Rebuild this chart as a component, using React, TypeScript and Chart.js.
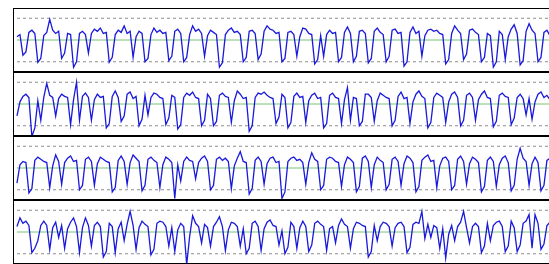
import React, { useEffect, useRef } from "react";
import { Chart, registerables } from "chart.js";
Chart.register(...registerables);

const panel1 = [0.3,0.5,-1.4,-1.1,0.7,0.9,0.6,-2.05,-1.7,0.4,0.7,1.9,0.9,0.6,0.8,-1.7,-1.2,0.6,0.5,-2.5,
-2.0,0.6,0.8,0.5,-1.2,0.6,1.0,0.8,1.1,0.6,0.7,-2.05,-1.6,0.5,0.9,0.7,1.3,0.6,0.8,-1.6,
0.3,0.8,0.6,-2.0,-1.7,0.5,1.1,0.7,0.9,0.6,0.7,-1.9,-1.5,0.8,1.0,0.6,-2.0,-1.6,0.5,1.3,
0.8,1.0,0.6,-1.5,0.4,0.9,0.7,0.5,-2.5,-2.1,0.5,0.9,1.1,0.7,0.8,0.5,-2.0,-1.6,0.8,0.9,
0.6,-1.8,-1.3,0.8,1.3,1.0,0.9,0.6,0.7,-2.0,-1.7,0.7,0.8,0.5,-1.5,0.3,1.1,1.0,0.6,0.5,
-2.2,-1.8,0.4,-1.5,0.5,0.9,0.6,0.7,-2.0,-1.6,0.7,1.2,0.6,-2.0,-1.5,0.8,0.9,0.6,-2.1,-1.7,
0.8,1.1,0.7,0.5,-2.0,-1.5,0.9,1.0,0.6,0.7,-2.4,-2.0,0.7,1.2,0.6,0.8,-1.5,0.4,0.9,1.0,
0.8,0.9,0.6,0.5,-2.2,-1.8,0.6,1.3,0.9,0.6,-1.8,-1.3,0.9,1.0,0.7,0.5,-2.0,-1.6,0.6,0.4,
-2.5,-2.0,0.8,0.5,-1.8,0.3,1.0,1.4,0.6,-2.3,-1.9,0.8,1.5,0.9,0.6,-2.0,-1.6,0.7,0.9,0.4];

const panel2 = [-1.1,0.2,0.7,0.9,0.6,-3.0,-2.2,0.3,-1.5,0.6,1.9,0.8,0.6,-1.1,0.5,0.9,0.7,0.6,-1.9,0.4,
2.0,-1.5,0.7,1.0,0.6,-1.5,0.4,0.9,0.6,0.7,-2.2,-1.8,0.7,1.2,0.6,-1.6,-1.1,0.9,1.1,0.5,
0.7,-2.0,-1.4,0.8,-1.0,0.6,1.0,0.9,0.6,0.5,-1.9,-1.3,0.8,0.6,-2.3,-1.9,0.6,1.0,0.8,1.1,
0.6,0.5,-2.0,-1.5,0.9,0.5,-2.0,-1.6,0.8,1.0,0.7,0.6,-1.7,0.3,1.2,0.9,0.5,0.6,-2.5,-2.0,
0.6,1.0,0.9,1.1,0.8,0.6,0.5,-1.8,-1.2,0.9,0.6,-2.2,-1.7,0.7,1.0,0.6,0.7,-1.7,0.3,0.8,
1.0,0.5,0.6,-2.2,-1.8,0.8,1.0,0.6,0.5,-1.8,0.4,1.5,-1.5,0.6,0.5,-2.0,-1.6,0.9,0.9,0.6,
-1.6,0.3,1.0,0.8,0.6,0.5,-2.0,-1.5,0.7,1.1,0.5,0.6,-1.8,0.2,0.9,1.2,0.7,0.5,-2.2,-1.7,
0.6,1.0,0.8,0.6,-1.7,0.2,0.9,1.1,0.6,-2.0,-1.5,0.8,1.0,0.6,-1.5,0.4,0.9,1.2,0.6,0.5,
-2.1,-1.6,0.8,1.0,0.7,0.6,-1.9,-1.3,0.6,0.9,0.5,-1.0,0.5,-1.4,0.2,0.9,1.1,0.6,0.8,0.4];

const panel3 = [-1.4,0.3,0.6,0.5,-2.3,-1.9,0.7,1.0,0.8,0.6,0.5,-1.8,0.2,1.2,0.6,-1.5,0.5,0.9,1.1,0.6,
0.7,-2.0,-1.6,0.8,1.0,0.6,-1.6,0.4,1.0,0.8,0.6,0.5,-2.2,-1.8,0.7,1.1,0.6,-1.5,0.5,1.2,
0.9,0.6,-2.1,-1.6,0.8,1.0,0.7,0.5,-1.8,0.3,1.0,0.8,0.5,-2.8,0.3,-1.2,0.6,1.0,0.7,0.6,
-1.0,0.5,0.9,1.1,0.6,-2.0,-1.6,0.8,1.0,0.7,0.9,0.6,-1.9,0.2,0.9,1.5,0.6,0.5,-2.4,-1.9,
0.7,1.0,0.6,-1.5,0.4,0.9,1.0,0.5,0.6,-2.8,-2.2,0.6,0.9,1.0,0.7,0.8,0.5,-1.5,0.5,1.4,
0.8,0.6,-2.0,-1.6,0.8,1.0,0.9,0.6,0.5,-1.7,0.3,1.0,0.8,0.5,-2.2,-1.7,0.9,1.1,0.6,-1.8,
0.3,1.0,0.7,0.5,-2.0,-1.5,0.8,1.0,0.6,-1.6,0.4,1.1,0.9,0.5,-2.2,-1.7,0.7,1.0,1.2,0.6,
0.7,-1.8,0.2,0.9,1.0,0.6,-2.0,-1.6,0.8,1.1,0.6,-1.5,0.4,1.0,0.8,0.5,-2.2,-1.7,0.7,1.0,
0.6,-1.7,0.3,0.9,1.1,0.5,-2.1,-1.6,0.8,1.8,0.9,0.6,-1.6,0.4,1.0,0.5,-2.1,-1.6,0.7,0.9];

const panel4 = [0.5,1.3,0.8,1.0,0.6,-1.9,-1.5,-0.8,0.6,1.0,0.6,-1.6,0.4,0.9,-0.5,0.6,-1.5,0.3,0.9,1.3,
0.5,-1.9,0.4,1.3,0.6,-1.3,0.6,0.9,0.5,-2.3,-1.8,0.8,0.5,-1.9,0.3,0.9,-0.8,0.7,1.9,0.6,
-1.6,0.4,1.0,0.7,0.5,-2.1,-1.6,0.8,1.0,0.9,0.5,-1.3,0.4,-1.8,0.2,0.8,0.5,-3.0,-0.4,1.5,
0.8,0.5,-1.0,0.7,0.4,-1.3,0.5,0.9,1.4,0.5,-1.7,0.2,0.9,0.8,0.5,-1.3,0.3,-2.0,-1.5,0.8,
1.0,0.5,-1.7,0.3,0.9,1.1,0.6,0.5,-1.2,0.1,-2.0,-1.4,0.9,0.5,-1.5,0.4,1.0,0.5,-1.8,-1.2,
0.8,1.0,0.7,0.5,-1.7,0.3,0.5,-1.0,0.6,1.2,0.7,0.5,-1.5,0.3,0.9,0.8,0.6,0.5,-2.3,-1.8,
0.6,-0.8,0.5,0.9,0.8,0.5,-1.3,0.4,0.8,0.9,0.5,-1.9,-1.4,0.7,0.9,0.8,1.9,-0.6,0.7,-0.5,
0.6,0.4,-1.5,0.3,-2.4,-0.2,0.6,-0.8,0.5,0.9,1.9,0.4,-1.0,0.5,0.8,0.5,-1.9,-1.3,0.8,-0.8,
0.6,0.9,1.0,0.5,-1.8,-1.3,1.0,0.4,-1.8,-1.2,0.8,1.0,1.6,-1.5,1.6,0.8,-1.6,-1.1,0.6,0.9];

const PANELS = [panel1, panel2, panel3, panel4];
const UPPER_LIMIT = 2;
const LOWER_LIMIT = -2;
const MEAN_LEVEL = 0;

const Y_MIN = -2.85;
const Y_MAX = 2.85;
const X_MIN = -1;
const X_MAX = 179.7;

function Panel({ values, top }: { values: number[]; top: number }) {
  const ref = useRef<HTMLCanvasElement>(null);
  useEffect(() => {
    if (!ref.current) return;
    const n = values.length;
    const hline = (y: number) => [
      { x: 0, y },
      { x: n + 2, y },
    ];
    const chart = new Chart(ref.current, {
      type: "line",
      data: {
        datasets: [
          {
            data: values.map((v, i) => ({ x: i, y: v })),
            borderColor: "rgb(25,25,220)",
            borderWidth: 1.3,
            pointRadius: 0,
            tension: 0,
            order: 0,
            clip: false as any,
          },
          {
            data: hline(MEAN_LEVEL),
            borderColor: "rgb(120,195,120)",
            borderWidth: 1,
            pointRadius: 0,
            order: 1,
          },
          {
            data: hline(UPPER_LIMIT),
            borderColor: "rgb(140,140,140)",
            borderWidth: 1,
            borderDash: [3, 3],
            pointRadius: 0,
            order: 2,
          },
          {
            data: hline(LOWER_LIMIT),
            borderColor: "rgb(140,140,140)",
            borderWidth: 1,
            borderDash: [3, 3],
            pointRadius: 0,
            order: 2,
          },
        ],
      },
      options: {
        animation: false,
        responsive: false,
        maintainAspectRatio: false,
        events: [],
        layout: { padding: 0 },
        plugins: { legend: { display: false }, tooltip: { enabled: false } },
        scales: {
          x: { type: "linear", display: false, min: X_MIN, max: X_MAX },
          y: { display: false, min: Y_MIN, max: Y_MAX },
        },
      },
    } as any);
    return () => chart.destroy();
  }, [values]);
  return (
    <div
      style={{
        position: "absolute",
        left: 13,
        top,
        width: 540,
        height: 64,
        border: "1px solid #000",
        boxSizing: "border-box",
        background: "#fff",
      }}
    >
      <canvas ref={ref} width={538} height={62} style={{ display: "block", width: 538, height: 62 }} />
    </div>
  );
}

export default function App() {
  return (
    <div
      style={{
        position: "fixed",
        left: 0,
        top: 0,
        width: 549,
        height: 264,
        overflow: "hidden",
        background: "#fff",
      }}
    >
      {PANELS.map((p, i) => (
        <Panel key={i} values={p} top={8 + 64 * i} />
      ))}
    </div>
  );
}
